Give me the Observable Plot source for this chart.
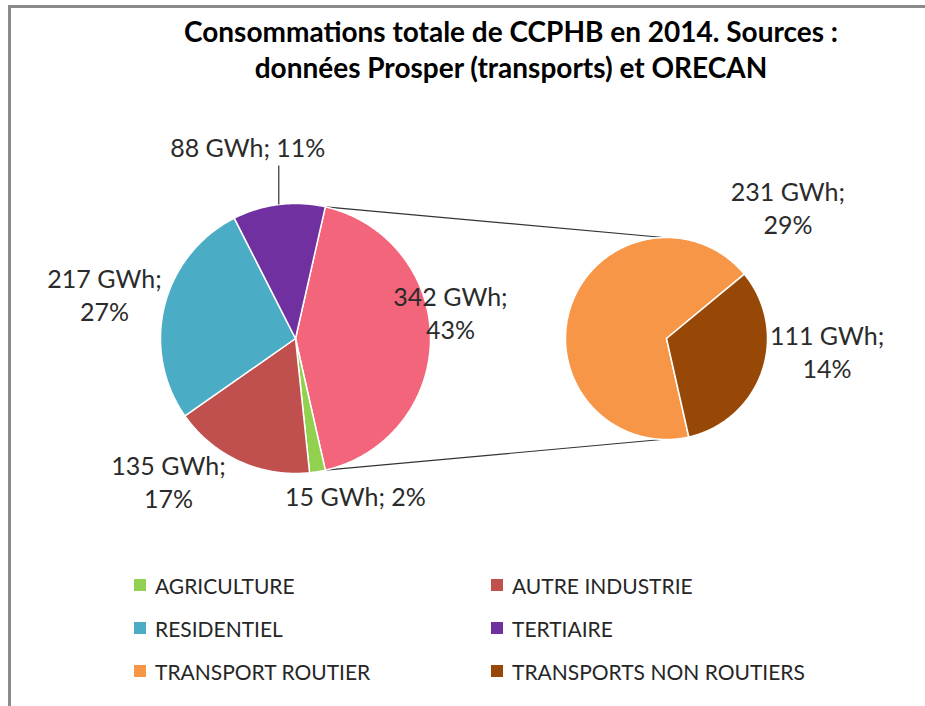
<!DOCTYPE html>
<html><head><meta charset="utf-8">
<script src="https://cdn.jsdelivr.net/npm/d3@7"></script>
<script src="https://cdn.jsdelivr.net/npm/@observablehq/plot@0.6"></script>
<style>
html,body{margin:0;padding:0;background:#fff;overflow:hidden;width:925px;height:706px;font-family:Lato,"Open Sans",sans-serif;}
#frame{position:absolute;left:8px;top:5px;width:940px;height:720px;border-top:3px solid #8a8a8a;border-left:3px solid #8a8a8a;box-sizing:border-box;}
#title{position:absolute;left:0;top:13px;width:1022px;text-align:center;font-weight:bold;font-size:28px;line-height:36px;color:#000;white-space:pre;}
#chart{position:absolute;left:0;top:100px;}
.item{position:absolute;display:flex;align-items:center;font-size:21px;color:#262626;height:30px;white-space:nowrap;}
.sw{width:12px;height:12px;margin-right:9px;flex:none;}
</style></head><body>
<div id="frame"></div>
<div id="title"></div>
<div id="chart"></div>
<div id="legend"></div>
<script>
// ---- data ----
const titleLines = ["Consommations totale de CCPHB en 2014. Sources :", "données Prosper (transports) et ORECAN"];
const mainCategories = ["AGRICULTURE", "AUTRE INDUSTRIE", "RESIDENTIEL", "TERTIAIRE"];
const mainValues = [15, 135, 217, 88];
const secondCategories = ["TRANSPORT ROUTIER", "TRANSPORTS NON ROUTIERS"];
const secondValues = [231, 111];
const otherName = "TRANSPORTS";
const unit = "GWh";
const legendOrder = ["AGRICULTURE", "AUTRE INDUSTRIE", "RESIDENTIEL", "TERTIAIRE", "TRANSPORT ROUTIER", "TRANSPORTS NON ROUTIERS"];
const colorDomain = ["AGRICULTURE", "AUTRE INDUSTRIE", "RESIDENTIEL", "TERTIAIRE", "TRANSPORT ROUTIER", "TRANSPORTS NON ROUTIERS", "TRANSPORTS"];
const colorRange = ["#92D050", "#C0504D", "#4BACC6", "#7030A0", "#F79646", "#974806", "#F2657B"];

// ---- layout (pixels in svg) ----
const W = 925, H = 460;
const P1 = {x: 295, y: 238, r: 135};
const P2 = {x: 666, y: 238, r: 101};
// label offsets from the slice's outer arc midpoint
const labelLayout = {
  "TERTIAIRE": {dx: -31, dy: -58, leader: 39, twoLines: false},
  "RESIDENTIEL": {dx: -60, dy: -12, twoLines: true},
  "AUTRE INDUSTRIE": {dx: -71, dy: 20, twoLines: true},
  "AGRICULTURE": {dx: 38, dy: 24, twoLines: false},
  "TRANSPORTS": {dx: 20, dy: -27, twoLines: true},
  "TRANSPORT ROUTIER": {dx: 217, dy: -99, twoLines: true},
  "TRANSPORTS NON ROUTIERS": {dx: 65, dy: -20, twoLines: true}
};

document.getElementById("title").textContent = titleLines.join("\n");

const otherValue = d3.sum(secondValues);
const total = d3.sum(mainValues) + otherValue;
const pct = d3.format(".0%");
const deg = Math.PI / 180;

// main pie: other slice centred on the right (90°), then the rest clockwise
const otherSpan = otherValue / total * 2 * Math.PI;
const mainNames = [otherName, ...mainCategories];
const mainVals = [otherValue, ...mainValues];
const mainStart = Math.PI / 2 - otherSpan / 2;
const mainArcs = d3.pie().sort(null).startAngle(mainStart).endAngle(mainStart + 2 * Math.PI)(mainVals)
  .map((a, i) => ({name: mainNames[i], value: mainVals[i], a0: a.startAngle, a1: a.endAngle, pie: P1}));
// second pie: starts where the "other" slice ends
const secStart = Math.PI / 2 + otherSpan / 2;
const secArcs = d3.pie().sort(null).startAngle(secStart).endAngle(secStart + 2 * Math.PI)(secondValues)
  .map((a, i) => ({name: secondCategories[i], value: secondValues[i], a0: a.startAngle, a1: a.endAngle, pie: P2}));
const arcs = [...mainArcs, ...secArcs];

const pt = (c, a, r = c.r) => ({x: c.x + r * Math.sin(a), y: c.y - r * Math.cos(a)});

const polys = [];
for (const s of arcs) {
  const n = Math.max(2, Math.ceil((s.a1 - s.a0) / (0.5 * deg)));
  polys.push({name: s.name, x: s.pie.x, y: s.pie.y});
  for (let i = 0; i <= n; i++) {
    const p = pt(s.pie, s.a0 + (s.a1 - s.a0) * i / n);
    polys.push({name: s.name, ...p});
  }
  polys.push({name: s.name, x: s.pie.x, y: s.pie.y});
}

const other = mainArcs[0];
const pA = pt(P1, other.a0), pB = pt(P1, other.a1);
const connectors = [
  {x1: pA.x, y1: pA.y, x2: P2.x - 3, y2: P2.y - P2.r},
  {x1: pB.x, y1: pB.y, x2: P2.x - 5, y2: P2.y + P2.r}
];

const labels = arcs.map(s => {
  const m = pt(s.pie, (s.a0 + s.a1) / 2);
  const L = labelLayout[s.name];
  const t = `${s.value} ${unit};` + (L.twoLines ? "\n" : " ") + pct(s.value / total);
  return {x: m.x + L.dx, y: m.y + L.dy, text: t, mx: m.x, my: m.y, leader: L.leader};
});
const leaders = labels.filter(d => d.leader).map(d => ({x1: d.mx, y1: d.my, x2: d.mx, y2: d.my - d.leader}));

const chart = Plot.plot({
  width: W, height: H, margin: 0,
  x: {domain: [0, W], range: [0, W], axis: null},
  y: {domain: [0, H], range: [0, H], axis: null},
  color: {domain: colorDomain, range: colorRange},
  style: {background: "transparent", fontFamily: "Lato, sans-serif"},
  marks: [
    Plot.link(connectors, {x1: "x1", y1: "y1", x2: "x2", y2: "y2", stroke: "#333", strokeWidth: 1.2}),
    Plot.line(polys, {x: "x", y: "y", z: "name", fill: "name", stroke: "white", strokeWidth: 1.5, strokeLinejoin: "round", curve: "linear"}),
    Plot.link(leaders, {x1: "x1", y1: "y1", x2: "x2", y2: "y2", stroke: "#333", strokeWidth: 1.2}),
    Plot.text(labels, {x: "x", y: "y", text: "text", fontSize: 25, lineHeight: 1.32, fill: "#2b2b2b", textAnchor: "middle", lineAnchor: "middle"})
  ]
});
document.getElementById("chart").appendChild(chart);

// legend (two columns)
const legend = document.getElementById("legend");
const colX = [134, 491], rowY = [586, 629, 672];
legendOrder.forEach((name, i) => {
  const el = document.createElement("div");
  el.className = "item";
  el.style.left = colX[i % 2] + "px";
  el.style.top = (rowY[Math.floor(i / 2)] - 16) + "px";
  const sw = document.createElement("span");
  sw.className = "sw";
  sw.style.background = colorRange[colorDomain.indexOf(name)];
  el.appendChild(sw);
  el.appendChild(document.createTextNode(name));
  legend.appendChild(el);
});
</script>
</body></html>
